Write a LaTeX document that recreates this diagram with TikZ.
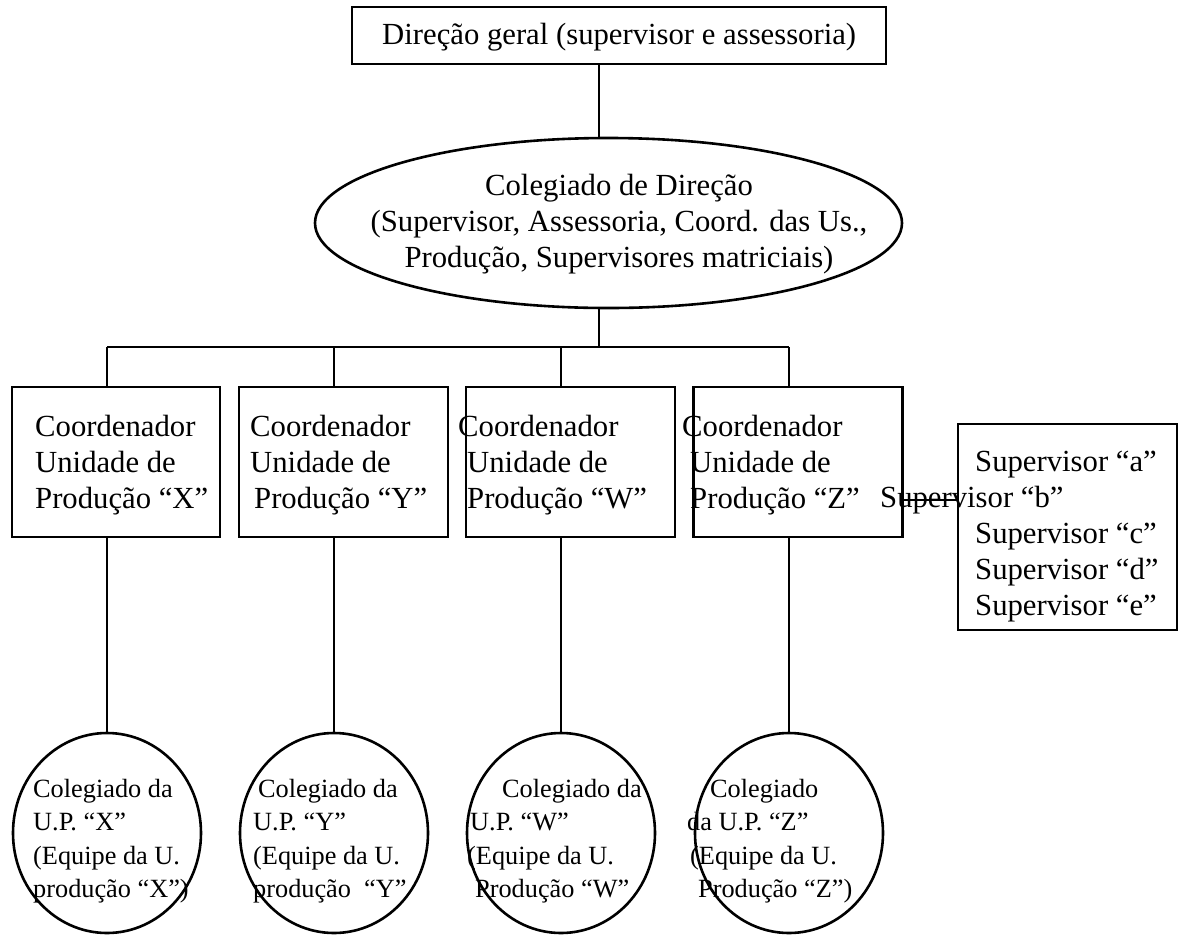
\documentclass[tikz,border=0pt]{standalone}
\usepackage{fontspec}
\setmainfont{Liberation Serif}
\usetikzlibrary{positioning}
\usetikzlibrary{shapes.geometric}
\tikzset{caixa/.style={draw, rectangle, line width=2.6pt, inner sep=0pt}}
\tikzset{oval/.style={draw, ellipse, line width=2.6pt, inner sep=0pt, minimum width=188pt, minimum height=200pt}}
\tikzset{liga/.style={line width=2.6pt}}
\tikzset{txt/.style={inner sep=0pt, align=left, anchor=west, font=\fontsize{30.7}{36}\selectfont}}
\tikzset{txtp/.style={inner sep=0pt, align=left, anchor=west, font=\fontsize{26.3}{33.5}\selectfont}}

\begin{document}
\begin{tikzpicture}[x=1pt, y=-1pt]
\useasboundingbox (0,0) rectangle (1178,935);
\begin{scope}[on grid]
\node[caixa, minimum width=534pt, minimum height=57pt] (dirgeral) at (619,35.5) {};
\node[draw, ellipse, line width=2.6pt, inner sep=0pt, minimum width=587pt, minimum height=170pt] (coldir) at (608.5,223) {};
\coordinate (trunk) at (599,347);

\node[caixa, minimum width=208pt, minimum height=150pt] (coordX) at (116,462) {};
\node[caixa, minimum width=209pt, minimum height=150pt, right=227.5pt of coordX] (coordY) {};
\node[caixa, minimum width=209pt, minimum height=150pt, right=227pt of coordY] (coordW) {};
\node[caixa, minimum width=209pt, minimum height=150pt, right=227.5pt of coordW] (coordZ) {};
\node[caixa, minimum width=219pt, minimum height=206pt] (supervisores) at (1067.5,527) {};
\coordinate (supb) at (930,500);

\node[oval] (colX) at (107,833) {};
\node[oval, right=227pt of colX] (colY) {};
\node[oval, right=227pt of colY] (colW) {};
\node[oval, right=228pt of colW] (colZ) {};
\end{scope}

\node[txt] (tdir) at (382,37) {Direção geral (supervisor e assessoria)};
\node[txt, align=center, anchor=center] (tcoldir) at (619,224) {Colegiado de Direção\\(Supervisor, Assessoria, Coord. das Us.,\\Produção, Supervisores matriciais)};

\node[txt] (tX) at (35,465) {Coordenador\\Unidade de\\Produção “X”};
\node[txt] (tY) at (250,465) {Coordenador\\Unidade de\\\hspace*{4pt}Produção “Y”};
\node[txt] (tW) at (458,465) {Coordenador\\\hspace*{9pt}Unidade de\\\hspace*{9pt}Produção “W”};
\node[txt] (tZ) at (682,465) {Coordenador\\\hspace*{8pt}Unidade de\\\hspace*{8pt}Produção “Z”};
\node[txt] (tsup) at (975,537) {Supervisor “a”\\\hspace*{-95pt}Supervisor “b”\\Supervisor “c”\\Supervisor “d”\\Supervisor “e”};

\node[txtp] (tcX) at (33,841) {Colegiado da\\U.P. “X”\\(Equipe da U.\\produção “X”)};
\node[txtp] (tcY) at (253,841) {\hspace*{5pt}Colegiado da\\U.P. “Y”\\(Equipe da U.\\produção\ \ “Y”};
\node[txtp] (tcW) at (467,841) {\hspace*{35pt}Colegiado da\\\hspace*{3pt}U.P. “W”\\(Equipe da U.\\\hspace*{8pt}Produção “W”};
\node[txtp] (tcZ) at (687,841) {\hspace*{23pt}Colegiado\\da U.P. “Z”\\\hspace*{3pt}(Equipe da U.\\\hspace*{11pt}Produção “Z”)};

\draw[liga] (dirgeral.south -| trunk) -- (coldir.north -| trunk);
\draw[liga] (coldir.south -| trunk) -- (trunk);
\draw[liga] (colX |- trunk) -- (colZ |- trunk);
\foreach \u in {X,Y,W,Z} {
  \draw[liga] (col\u |- trunk) -- (col\u |- coord\u.north);
  \draw[liga] (col\u |- coord\u.south) -- (col\u.north);
}
\draw[liga] (coordZ.east |- supb) -- (supervisores.west |- supb);
\end{tikzpicture}
\end{document}
